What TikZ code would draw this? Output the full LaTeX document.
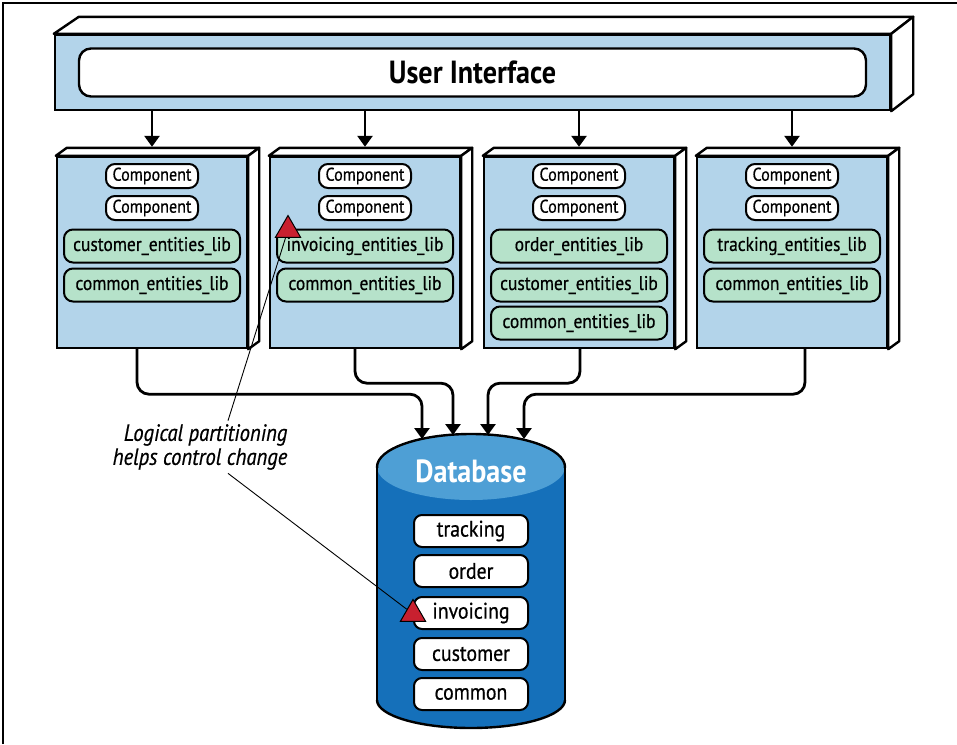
\documentclass[tikz,border=0pt]{standalone}
\usepackage{fontspec}
\setmainfont{PT Sans}[FakeStretch=0.88,UprightFeatures={FakeBold=0.6},ItalicFeatures={FakeBold=0.6}]
\usepackage{tikz}
\usetikzlibrary{arrows.meta,positioning,calc,shapes.geometric}
\definecolor{uiblue}{HTML}{B3D4EA}
\definecolor{libgreen}{HTML}{B6E2CA}
\definecolor{dbdark}{HTML}{1570BA}
\definecolor{dblight}{HTML}{4E9FD5}
\definecolor{warnred}{HTML}{C8202F}
\tikzset{
  face/.style    ={draw,line width=2.4pt,fill=uiblue,inner sep=0pt},
  side/.style    ={draw,line width=2.4pt,fill=white,line join=round},
  uibar/.style   ={draw,line width=2.4pt,fill=white,rounded corners=12pt,
                   minimum width=787pt,minimum height=48pt,font=\fontsize{32}{35}\selectfont\bfseries},
  comp/.style    ={draw,line width=2pt,fill=white,rounded corners=9pt,inner sep=0pt,
                   minimum width=92pt,minimum height=24pt,font=\fontsize{18.3}{20}\selectfont},
  lib/.style     ={draw,line width=2pt,fill=libgreen,rounded corners=9pt,inner sep=0pt,
                   minimum width=176pt,minimum height=33pt,font=\fontsize{19.8}{22}\selectfont},
  dbitem/.style  ={draw,line width=2pt,fill=white,rounded corners=8pt,inner sep=0pt,
                   minimum width=114pt,minimum height=32pt,font=\fontsize{22.5}{24}\selectfont},
  flow/.style    ={line width=2.8pt,rounded corners=12pt,-{Triangle[length=11pt,width=15pt]}},
  leader/.style  ={line width=0.9pt},
  warn/.style    ={regular polygon,regular polygon sides=3,draw,line width=1pt,
                   fill=warnred,minimum size=29pt,inner sep=0pt},
}

\begin{document}
\begin{tikzpicture}[x=1pt,y=-1pt]
\useasboundingbox (0,0) rectangle (957,744);
\draw[line width=1.5pt] (3,744) -- (3,3) -- (957,3);

% user interface slab
\node[face,minimum width=835pt,minimum height=75pt] (ui) at (472.5,72.5) {};
\draw[side] (ui.north west) -- ++(25,-17) -- ($(ui.north east)+(22,-17)$) -- (ui.north east) -- cycle;
\draw[side] (ui.north east) -- ++(22,-17) -- ($(ui.south east)+(22,-17)$) -- (ui.south east) -- cycle;
\node[uibar] (uitxt) at (ui.center) {User Interface};

% services
\foreach \i/\cx in {1/152,2/365,3/579,4/792}{
  \node[face,minimum width=190pt,minimum height=191pt] (svc\i) at (\cx,252.5) {};
  \draw[side] (svc\i.north west) -- ++(11,-8) -- ($(svc\i.north east)+(11,-8)$) -- (svc\i.north east) -- cycle;
  \draw[side] (svc\i.north east) -- ++(11,-8) -- ($(svc\i.south east)+(11,-8)$) -- (svc\i.south east) -- cycle;
  \node[comp] (c\i a) at (\cx,176) {Component};
  \node[comp] (c\i b) at (\cx,208) {Component};
  \draw[flow] (svc\i.north |- ui.south) -- ([yshift=9pt]svc\i.north);
}

\node[lib] (lib1a) at (152,246) {customer\_entities\_lib};
\node[lib] (lib1b) at (152,285) {common\_entities\_lib};
\node[lib] (lib2a) at (365,246) {invoicing\_entities\_lib};
\node[lib] (lib2b) at (365,285) {common\_entities\_lib};
\node[lib] (lib3a) at (579,246) {order\_entities\_lib};
\node[lib] (lib3b) at (579,285) {customer\_entities\_lib};
\node[lib] (lib3c) at (579,323) {common\_entities\_lib};
\node[lib] (lib4a) at (792,246) {tracking\_entities\_lib};
\node[lib] (lib4b) at (792,285) {common\_entities\_lib};

% database cylinder
\fill[dbdark] (377,467) rectangle (565,700);
\fill[dbdark] (471,700) ellipse[x radius=94,y radius=28];
\fill[dblight] (471,467) ellipse[x radius=94,y radius=33];
\draw[line width=2.4pt] (377,467) -- (377,700) (565,467) -- (565,700);
\begin{scope}
  \clip (370,467) rectangle (572,420);
  \draw[line width=2.4pt] (471,467) ellipse[x radius=94,y radius=33];
\end{scope}
\begin{scope}
  \clip (370,700) rectangle (572,740);
  \draw[line width=2.4pt] (471,700) ellipse[x radius=94,y radius=28];
\end{scope}
\node[text=white,font=\fontsize{32}{35}\selectfont\bfseries] (dbtitle) at (471,471) {Database};

\node[dbitem] (db1) at (471,531) {tracking};
\node[dbitem] (db2) at (471,571) {order};
\node[dbitem] (db3) at (471,613) {invoicing};
\node[dbitem] (db4) at (471,654) {customer};
\node[dbitem] (db5) at (471,694) {common};

\coordinate (dbin1) at (422,439);
\coordinate (dbin2) at (453,435);
\coordinate (dbin3) at (488,435);
\coordinate (dbin4) at (524,439);

\draw[flow] ([xshift=-15pt]svc1.south) -- ++(0,45) -| (dbin1);
\draw[flow] ([xshift=-10pt]svc2.south) -- ++(0,34) -| (dbin2);
\draw[flow] ([xshift=1pt]svc3.south) -- ++(0,34) -| (dbin3);
\draw[flow] ([xshift=13pt]svc4.south) -- ++(0,45) -| (dbin4);

% callout
\node[align=right,font=\fontsize{23.5}{24}\selectfont\itshape] (note) at (200,447)
  {Logical partitioning\\helps control change};
\node[warn] (warn1) at (288,230) {};
\node[warn] (warn2) at (413,614) {};
\draw[leader] ([xshift=28pt]note.north) -- (warn1);
\draw[leader] ([xshift=28pt]note.south) -- (warn2);

\end{tikzpicture}
\end{document}
